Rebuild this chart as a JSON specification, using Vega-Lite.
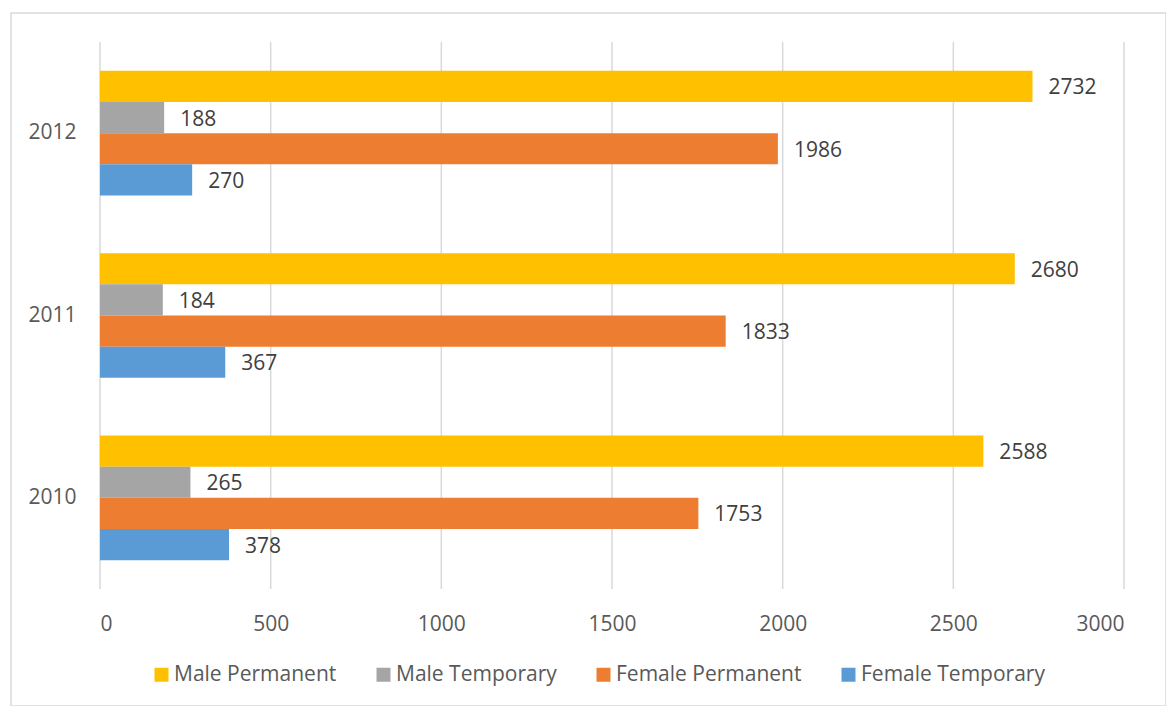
{
  "$schema": "https://vega.github.io/schema/vega-lite/v6.json",
  "width": 1155,
  "height": 693,
  "autosize": {"type": "none"},
  "padding": {"left": 11, "top": 13, "right": 0, "bottom": 0},
  "background": "white",
  "config": {
    "view": {"stroke": "#d9d9d9", "strokeWidth": 1.5},
    "font": "Open Sans",
    "axis": {"labelFont": "Open Sans", "labelFontSize": 21, "labelColor": "#595959", "domain": false, "ticks": false, "grid": false},
    "legend": {"labelFont": "Open Sans", "labelFontSize": 21, "labelColor": "#595959"}
  },
  "data": {
    "values": [
      {"year": "2012", "series": "Male Permanent", "value": 2732},
      {"year": "2012", "series": "Male Temporary", "value": 188},
      {"year": "2012", "series": "Female Permanent", "value": 1986},
      {"year": "2012", "series": "Female Temporary", "value": 270},
      {"year": "2011", "series": "Male Permanent", "value": 2680},
      {"year": "2011", "series": "Male Temporary", "value": 184},
      {"year": "2011", "series": "Female Permanent", "value": 1833},
      {"year": "2011", "series": "Female Temporary", "value": 367},
      {"year": "2010", "series": "Male Permanent", "value": 2588},
      {"year": "2010", "series": "Male Temporary", "value": 265},
      {"year": "2010", "series": "Female Permanent", "value": 1753},
      {"year": "2010", "series": "Female Temporary", "value": 378}
    ]
  },
  "encoding": {
    "x": {
      "field": "value", "type": "quantitative",
      "scale": {"domain": [0, 3000], "nice": false, "range": [89, 1113]},
      "axis": {"title": null, "values": [0, 500, 1000, 1500, 2000, 2500, 3000], "format": "d",
               "labelPadding": 24, "offset": -117}
    }
  },
  "layer": [
    {
      "data": {"values": [{"value": 0}, {"value": 500}, {"value": 1000}, {"value": 1500}, {"value": 2000}, {"value": 2500}, {"value": 3000}]},
      "mark": {"type": "rule", "color": "#d9d9d9", "strokeWidth": 1.5},
      "encoding": {
        "y": {"datum": 0, "type": "quantitative", "scale": {"domain": [0, 1], "range": [29, 576], "nice": false, "zero": false}, "axis": null},
        "y2": {"datum": 1}
      }
    },
    {
      "encoding": {
        "y": {
          "field": "year", "type": "nominal", "sort": "descending",
          "scale": {"paddingInner": 0.316, "paddingOuter": 0.158, "range": [29, 576]},
          "axis": {"title": null, "labelPadding": 24, "offset": -89, "orient": "left"}
        },
        "yOffset": {
          "field": "series", "type": "nominal",
          "sort": ["Male Permanent", "Male Temporary", "Female Permanent", "Female Temporary"],
          "scale": {"paddingInner": 0, "paddingOuter": 0}
        }
      },
      "layer": [
        {
          "mark": {"type": "bar"},
          "encoding": {
            "color": {
              "field": "series", "type": "nominal",
              "scale": {
                "domain": ["Male Permanent", "Male Temporary", "Female Permanent", "Female Temporary"],
                "range": ["#FFC000", "#A5A5A5", "#ED7D31", "#5B9BD5"]
              },
              "legend": {
                "title": null, "orient": "none", "direction": "horizontal",
                "legendX": 140, "legendY": 651, "labelLimit": 400,
                "symbolType": "square", "symbolSize": 196, "symbolStrokeWidth": 0,
                "labelOffset": 2, "columnPadding": 36
              }
            }
          }
        },
        {
          "mark": {"type": "text", "align": "left", "baseline": "middle", "dx": 16, "dy": 2, "fontSize": 21, "color": "#404040"},
          "encoding": {"text": {"field": "value", "type": "quantitative"}}
        }
      ]
    }
  ],
  "resolve": {"scale": {"y": "independent"}, "axis": {"y": "independent"}}
}
